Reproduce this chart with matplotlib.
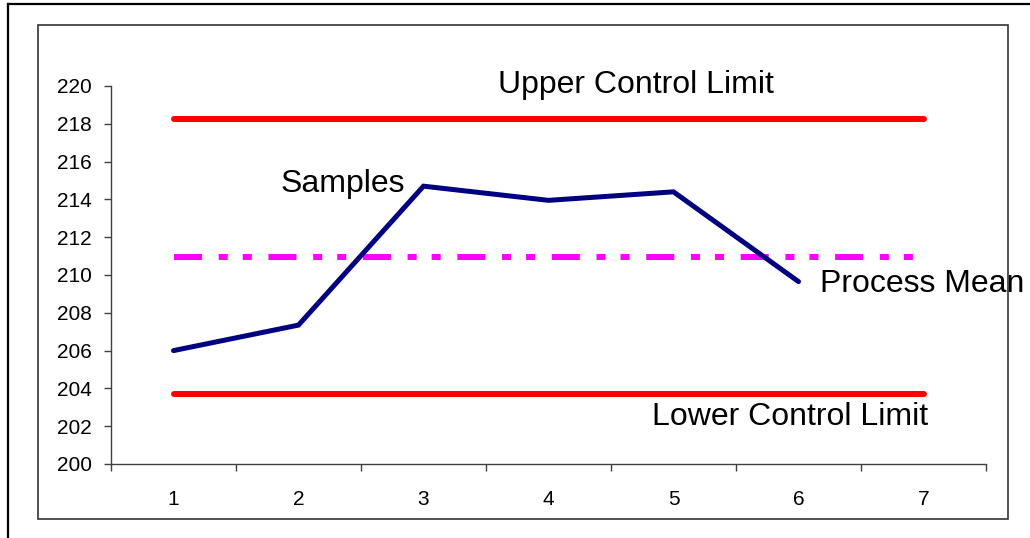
import matplotlib
matplotlib.use("Agg")
import matplotlib.pyplot as plt
from matplotlib.lines import Line2D
from matplotlib.patches import Rectangle

plt.rcParams['font.family'] = ['Liberation Sans', 'DejaVu Sans']
plt.rcParams['lines.scale_dashes'] = False

categories = [1, 2, 3, 4, 5, 6, 7]
samples = [206.0, 207.35, 214.7, 213.95, 214.4, 209.65]
ucl = [218.25] * 7
lcl = [203.7] * 7
mean = [210.97] * 7
y_ticks = list(range(200, 221, 2))

W, H = 1030, 538
fig = plt.figure(figsize=(W / 100, H / 100), dpi=100)
fig.patch.set_facecolor('white')

def fx(px):
    return px / W

def fy(py):
    return 1 - py / H

ax = fig.add_axes([fx(111), fy(464), fx(986) - fx(111), fy(86) - fy(464)])

ax.plot(categories, ucl, color='#FF0000', lw=4.3, solid_capstyle='round', zorder=3)
ax.plot(categories, lcl, color='#FF0000', lw=4.3, solid_capstyle='round', zorder=3)
ax.plot(categories, mean, color='#FF00FF', lw=4.3, dash_capstyle='butt',
        linestyle=(0, (20.2, 12.0, 6.5, 10.8, 6.5, 12.0)), zorder=3)
ax.plot(categories[:len(samples)], samples, color='#000080', lw=3.6,
        solid_capstyle='round', solid_joinstyle='miter', zorder=4)

ax.set_xlim(0.5, 7.5)
ax.set_ylim(200, 220)

ax.set_yticks(y_ticks)
ax.set_yticklabels([str(v) for v in y_ticks])
ax.set_xticks([c - 0.5 for c in categories] + [categories[-1] + 0.5])
ax.set_xticklabels([])
ax.set_xticks(categories, minor=True)
ax.set_xticklabels([str(c) for c in categories], minor=True)

ax.tick_params(axis='y', which='major', direction='out', length=5, width=1,
               color='#404040', labelsize=15, pad=9)
ax.tick_params(axis='x', which='major', direction='out', length=5, width=1,
               color='#404040')
ax.tick_params(axis='x', which='minor', length=0, labelsize=15, pad=19)

for s in ['top', 'right']:
    ax.spines[s].set_visible(False)
for s in ['left', 'bottom']:
    ax.spines[s].set_color('#404040')
    ax.spines[s].set_linewidth(1)
ax.patch.set_alpha(0)

tfs = 23
ax.text(4.7, 219.63, 'Upper Control Limit', fontsize=tfs, ha='center', va='baseline')
ax.text(1.86, 214.38, 'Samples', fontsize=tfs, ha='left', va='baseline')
ax.text(6.17, 209.12, 'Process Mean', fontsize=tfs, ha='left', va='baseline', clip_on=False)
ax.text(4.83, 202.07, 'Lower Control Limit', fontsize=tfs, ha='left', va='baseline')

# inner chart-area border
fig.add_artist(Rectangle((fx(38), fy(519)), fx(1008) - fx(38), fy(25) - fy(519),
                         transform=fig.transFigure, fill=False, edgecolor='#333333',
                         lw=1.2, zorder=10))
# outer border (left and top visible)
fig.add_artist(Line2D([fx(8), fx(8)], [0, fy(4)], transform=fig.transFigure,
                      color='black', lw=1.6))
fig.add_artist(Line2D([fx(8), 1], [fy(4), fy(4)], transform=fig.transFigure,
                      color='black', lw=1.6))

fig.savefig('out.png', dpi=100)
